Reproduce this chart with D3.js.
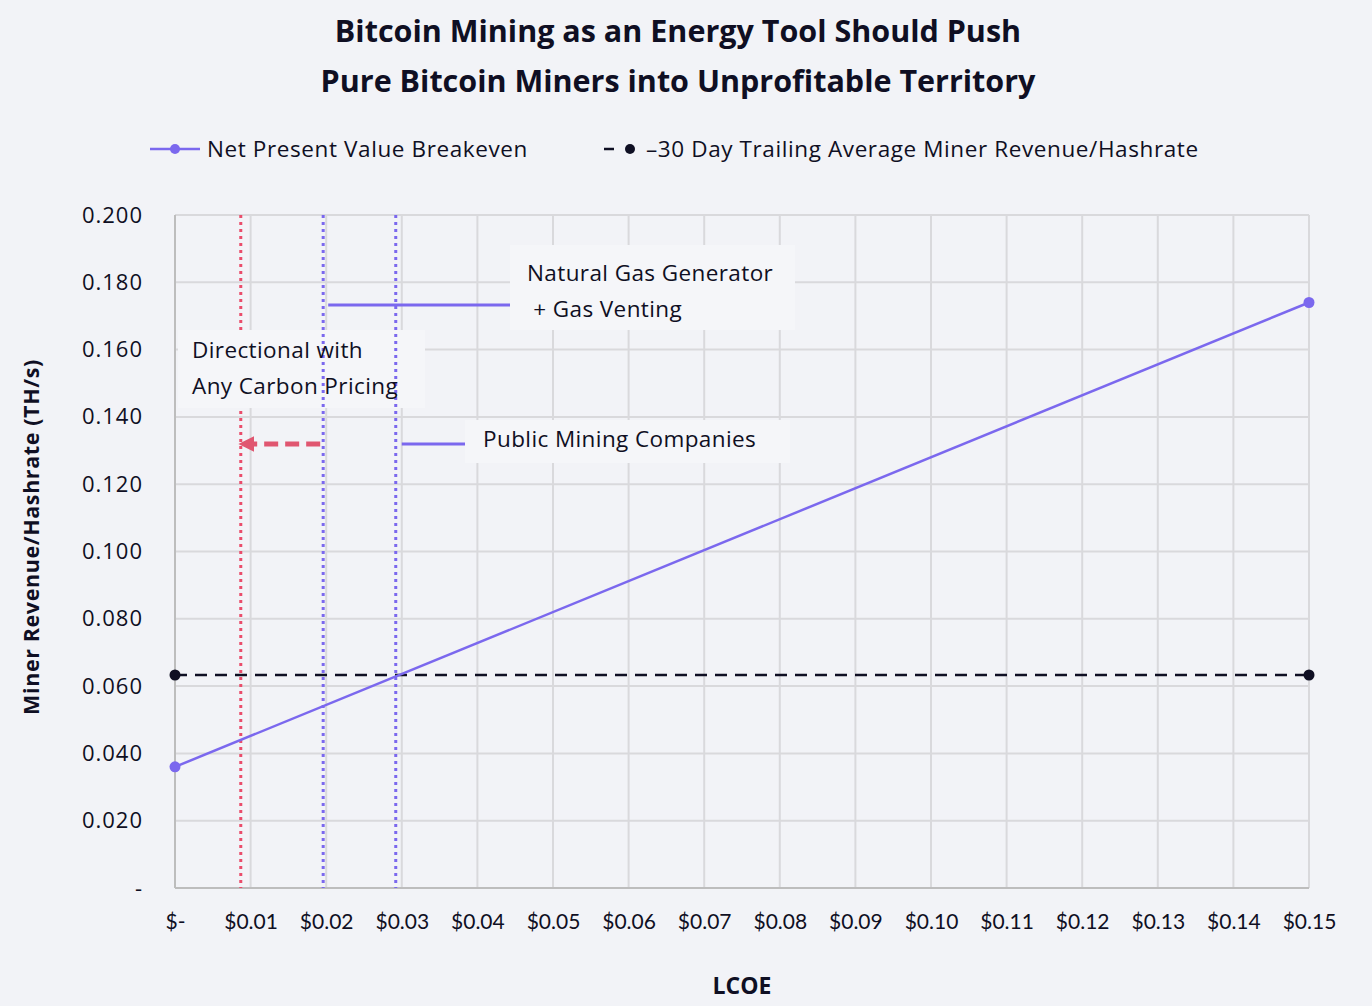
<!DOCTYPE html>
<html><head><meta charset="utf-8">
<script src="https://cdn.jsdelivr.net/npm/d3@7"></script>
<style>
html,body{margin:0;padding:0;background:#f2f3f7;}
svg{display:block;font-family:"Open Sans","Noto Sans",sans-serif;}
</style></head>
<body>
<svg id="c" width="1372" height="1006"></svg>
<script>
const titleLines = ["Bitcoin Mining as an Energy Tool Should Push","Pure Bitcoin Miners into Unprofitable Territory"];
const xTicks = [0,0.01,0.02,0.03,0.04,0.05,0.06,0.07,0.08,0.09,0.10,0.11,0.12,0.13,0.14,0.15];
const yTicks = [0,0.02,0.04,0.06,0.08,0.10,0.12,0.14,0.16,0.18,0.20];
const npvX = [0,0.15];
const npvY = [0.036,0.174];
const trailX = [0,0.15];
const trailY = [0.0633,0.0633];
const vLinesX = [0.0087,0.0196,0.0292];
const vLinesKind = ["red","purple","purple"];
const seriesNames = ["Net Present Value Breakeven","–30 Day Trailing Average Miner Revenue/Hashrate"];
const annoText = [["Natural Gas Generator"," + Gas Venting"],["Directional with","Any Carbon Pricing"],["Public Mining Companies"]];

const svg = d3.select("#c");
const purple = "#7b68ee", red = "#ea4d6b", dark = "#0f0f23", grid = "#d9d9dc";
const FONT = "'Open Sans','Noto Sans',sans-serif";
const x = d3.scaleLinear().domain([0,0.15]).range([175,1309]);
const y = d3.scaleLinear().domain([0,0.2]).range([888,215]);

// title
svg.append("g").selectAll("text").data(titleLines).join("text")
  .attr("x",678).attr("y",(d,i)=>42+i*50).attr("text-anchor","middle")
  .attr("font-size",30.5).attr("font-weight",700).attr("fill",dark).text(d=>d);

// grid
svg.append("g").selectAll("line").data(xTicks.slice(1)).join("line")
  .attr("x1",d=>x(d)).attr("x2",d=>x(d)).attr("y1",y(0.2)).attr("y2",y(0))
  .attr("stroke",grid).attr("stroke-width",2);
svg.append("g").selectAll("line").data(yTicks.slice(1)).join("line")
  .attr("x1",x(0)).attr("x2",x(0.15)).attr("y1",d=>y(d)).attr("y2",d=>y(d))
  .attr("stroke",grid).attr("stroke-width",2);
// axes lines
svg.append("line").attr("x1",x(0)).attr("x2",x(0)).attr("y1",y(0.2)).attr("y2",y(0)).attr("stroke","#bdbdbd").attr("stroke-width",2);
svg.append("line").attr("x1",x(0)).attr("x2",x(0.15)).attr("y1",y(0)).attr("y2",y(0)).attr("stroke","#bdbdbd").attr("stroke-width",2);

// axes via d3
const xAxis = d3.axisBottom(x).tickValues(xTicks).tickSize(0).tickPadding(22)
  .tickFormat(d=> d===0 ? "$-" : "$"+d.toFixed(2));
const gx = svg.append("g").attr("transform",`translate(0,${y(0)})`).call(xAxis);
gx.select(".domain").remove();
gx.selectAll("text").attr("font-size",21).attr("fill",dark).attr("font-family","Lato,'Noto Sans',sans-serif").attr("dy","0.9em");
const yAxis = d3.axisLeft(y).tickValues(yTicks).tickSize(0).tickPadding(32)
  .tickFormat(d=> d===0 ? "-" : d.toFixed(3));
const gy = svg.append("g").attr("transform",`translate(${x(0)},0)`).call(yAxis);
gy.select(".domain").remove();
gy.selectAll("text").attr("font-size",22).attr("letter-spacing",1).attr("fill",dark).attr("font-family",FONT);

// axis titles
svg.append("text").attr("x",742).attr("y",994).attr("text-anchor","middle").attr("font-size",23).attr("font-weight",700).attr("fill",dark).text("LCOE");
svg.append("text").attr("transform","translate(39,537) rotate(-90)").attr("text-anchor","middle").attr("font-size",21.5).attr("letter-spacing",0.6).attr("font-weight",700).attr("fill",dark).text("Miner Revenue/Hashrate (TH/s)");

const vg = svg.append("g");
// annotation boxes (backgrounds)
const boxBg = "#f5f6f9";
svg.append("rect").attr("x",510).attr("y",245).attr("width",285).attr("height",85).attr("fill",boxBg);
svg.append("rect").attr("x",178).attr("y",330).attr("width",247).attr("height",78).attr("fill",boxBg);
svg.append("rect").attr("x",465).attr("y",420).attr("width",325).attr("height",43).attr("fill",boxBg);
const vg2 = svg.append("g");

// vertical dotted lines: red under boxes, purple over
vLinesX.forEach((d,i)=>{
  const g = vLinesKind[i]==="red" ? vg : vg2;
  g.append("line").attr("x1",x(d)).attr("x2",x(d)).attr("y1",y(0.2)).attr("y2",y(0))
   .attr("stroke",vLinesKind[i]==="red"?red:purple).attr("stroke-width",3).attr("stroke-dasharray","3,4");
});

// connector lines
svg.append("line").attr("x1",x(vLinesX[1])+5).attr("x2",510).attr("y1",305).attr("y2",305).attr("stroke",purple).attr("stroke-width",3);
svg.append("line").attr("x1",x(vLinesX[2])+6).attr("x2",465).attr("y1",444).attr("y2",444).attr("stroke",purple).attr("stroke-width",3);
// red dashed arrow
svg.append("defs").append("marker").attr("id","ah").attr("viewBox","0 0 10 10").attr("refX",1).attr("refY",5)
  .attr("markerWidth",3.2).attr("markerHeight",3.2).attr("orient","auto-start-reverse")
  .append("path").attr("d","M0,0 L10,5 L0,10 z").attr("fill","#e05670");
svg.append("line").attr("x1",x(vLinesX[1])-3).attr("x2",x(vLinesX[0])+12).attr("y1",444).attr("y2",444)
  .attr("stroke","#e05670").attr("stroke-width",5).attr("stroke-dasharray","14,7").attr("marker-end","url(#ah)");

// annotation text
const atxt = (lines,x0,y0,lh)=>svg.append("g").selectAll("text").data(lines).join("text")
  .attr("x",x0).attr("y",(d,i)=>y0+i*lh).attr("font-size",22.5).attr("letter-spacing",0.4).attr("fill",dark).attr("xml:space","preserve").style("white-space","pre").text(d=>d);
atxt(annoText[0],527,281,36);
atxt(annoText[1],192,358,36);
atxt(annoText[2],483,447,36);

// series
const line = d3.line().x(d=>x(d[0])).y(d=>y(d[1]));
const npv = npvX.map((v,i)=>[v,npvY[i]]);
const trail = trailX.map((v,i)=>[v,trailY[i]]);
svg.append("path").datum(trail).attr("d",line).attr("fill","none").attr("stroke",dark).attr("stroke-width",2.5).attr("stroke-dasharray","12,8");
svg.append("g").selectAll("circle").data(trail).join("circle").attr("cx",d=>x(d[0])).attr("cy",d=>y(d[1])).attr("r",5.5).attr("fill",dark);
svg.append("path").datum(npv).attr("d",line).attr("fill","none").attr("stroke",purple).attr("stroke-width",2.5);
svg.append("g").selectAll("circle").data(npv).join("circle").attr("cx",d=>x(d[0])).attr("cy",d=>y(d[1])).attr("r",5.5).attr("fill",purple);

// legend
const lg = svg.append("g");
lg.append("line").attr("x1",150).attr("x2",200).attr("y1",149).attr("y2",149).attr("stroke",purple).attr("stroke-width",2.5);
lg.append("circle").attr("cx",175).attr("cy",149).attr("r",5).attr("fill",purple);
lg.append("text").attr("x",207).attr("y",157).attr("font-size",22.5).attr("letter-spacing",0.6).attr("fill",dark).text(seriesNames[0]);
lg.append("line").attr("x1",604).attr("x2",614).attr("y1",149).attr("y2",149).attr("stroke",dark).attr("stroke-width",2.5);
lg.append("circle").attr("cx",630).attr("cy",149).attr("r",5).attr("fill",dark);
lg.append("text").attr("x",646).attr("y",157).attr("font-size",22.5).attr("letter-spacing",0.6).attr("fill",dark).text(seriesNames[1]);
</script>
</body></html>
